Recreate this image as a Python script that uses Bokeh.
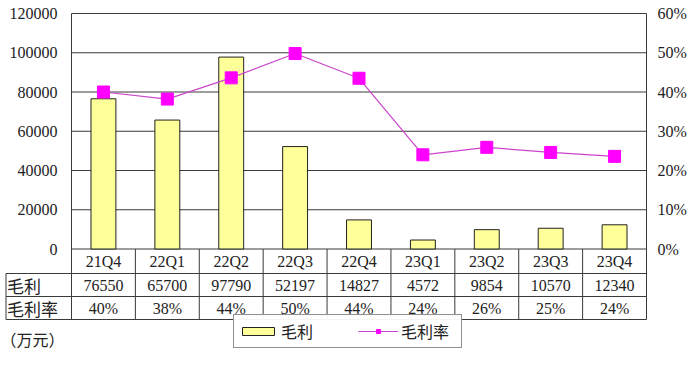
from bokeh.plotting import figure
from bokeh.models import (Range1d, LinearAxis, FixedTicker, PrintfTickFormatter,
                          NumeralTickFormatter, Legend, LegendItem, ColumnDataSource)
from bokeh.core.properties import value
from bokeh.embed import file_html
from bokeh.resources import INLINE

# ---------------- data ----------------
categories = ["21Q4", "22Q1", "22Q2", "22Q3", "22Q4", "23Q1", "23Q2", "23Q3", "23Q4"]
gross_profit = [76550, 65700, 97790, 52197, 14827, 4572, 9854, 10570, 12340]
gross_margin = [40.0, 38.2, 43.6, 49.8, 43.5, 24.0, 25.9, 24.6, 23.6]
profit_labels = ["76550", "65700", "97790", "52197", "14827", "4572", "9854", "10570", "12340"]
margin_labels = ["40%", "38%", "44%", "50%", "44%", "24%", "26%", "25%", "24%"]
left_ticks = [0, 20000, 40000, 60000, 80000, 100000, 120000]
right_ticks = [0, 10, 20, 30, 40, 50, 60]
row_names = ["毛利", "毛利率"]
series_names = ["毛利", "毛利率"]
unit_label = "（万元）"

# ---------------- layout (canvas px) ----------------
W, H = 692, 356
COL0 = 71            # canvas x of first category column edge
COLW = 575 / 9       # px per category
FR = 647             # frame right
TOP = 13             # canvas y of 120000 / 60%
ZERO = 248.5         # canvas y of 0
LMAX, RMAX = 120000, 60
n = len(categories)
PX = LMAX / (ZERO - TOP)      # left units per px
RPX = RMAX / (ZERO - TOP)
x_start = -COL0 / COLW
x_end = n + (FR - COL0 - 575) / COLW
y_end = LMAX + TOP * PX
y_start = -(H - ZERO) * PX
r_end = RMAX + TOP * RPX
r_start = -(H - ZERO) * RPX

row1_bot = -24.5 * PX
row2_bot = -47.5 * PX
tbl_bot = -70.5 * PX
row1_mid = -12.25 * PX
row2_mid = -36.0 * PX
row3_mid = -59.0 * PX
unit_y = -89.5 * PX
HX = x_start + 5.5 / COLW     # header column left border

SERIF = value("Liberation Serif")
CJK = value("Noto Sans CJK SC")
GRID = "#3a3a3a"
TXT = "#222222"

xc = [i + 0.5 for i in range(n)]

p = figure(width=W, height=H, output_backend="svg", toolbar_location=None,
           x_range=Range1d(x_start, x_end), y_range=Range1d(y_start, y_end),
           min_border_left=0, min_border_right=W - FR, min_border_top=0,
           min_border_bottom=0, y_axis_location=None, x_axis_location=None)
p.grid.visible = False
p.outline_line_color = None
p.background_fill_color = "white"
p.border_fill_color = "white"

# left axis (drawn at the first column edge)
lax = LinearAxis(ticker=FixedTicker(ticks=left_ticks), formatter=NumeralTickFormatter(format="0"),
                 fixed_location=0)
lax.major_tick_in = 0
lax.major_tick_out = 0
lax.minor_tick_in = 0
lax.minor_tick_out = 0
lax.axis_line_color = None
lax.major_label_standoff = 14
lax.major_label_text_font = "Liberation Serif"
lax.major_label_text_font_size = "16px"
lax.major_label_text_color = TXT
p.add_layout(lax, "left")

# right axis
p.extra_y_ranges = {"pct": Range1d(r_start, r_end)}
rax = LinearAxis(y_range_name="pct", ticker=FixedTicker(ticks=right_ticks),
                 formatter=PrintfTickFormatter(format="%d%%"))
rax.major_tick_in = 0
rax.major_tick_out = 0
rax.minor_tick_in = 0
rax.minor_tick_out = 0
rax.axis_line_color = None
rax.major_label_standoff = 10
rax.major_label_text_font = "Liberation Serif"
rax.major_label_text_font_size = "16px"
rax.major_label_text_color = TXT
p.add_layout(rax, "right")

# gridlines (only across the category columns)
p.segment(x0=[0] * len(left_ticks), x1=[n] * len(left_ticks), y0=left_ticks, y1=left_ticks,
          line_color=GRID, line_width=1)

src = ColumnDataSource(dict(x=xc, gp=gross_profit, gm=gross_margin, cat=categories,
                            pl=profit_labels, ml=margin_labels))

bars = p.vbar(x="x", top="gp", width=0.39, source=src, fill_color="#FFFF99",
              line_color="#222222", line_width=1)
ln = p.line(x="x", y="gm", source=src, y_range_name="pct", line_color="#CC44CC", line_width=1.2)
sq = p.scatter(x="x", y="gm", source=src, y_range_name="pct", marker="square", size=12,
               fill_color="#FF00FF", line_color="#FF00FF")

# table grid
hy = [row1_bot, row2_bot, tbl_bot]
p.segment(x0=[HX] * 3, x1=[n] * 3, y0=hy, y1=hy, line_color=GRID, line_width=1)
vx = list(range(0, n + 1))
vtop = [LMAX if (i == 0 or i == n) else 0 for i in vx]
p.segment(x0=vx, x1=vx, y0=[tbl_bot] * len(vx), y1=vtop, line_color=GRID, line_width=1)
p.segment(x0=[HX], x1=[HX], y0=[row1_bot], y1=[tbl_bot], line_color=GRID, line_width=1)

for col, ym in (("cat", row1_mid), ("pl", row2_mid), ("ml", row3_mid)):
    p.text(x="x", y=ym, text=col, source=src, text_align="center", text_baseline="middle",
           text_font=SERIF, text_font_size="16px", text_color=TXT)

p.text(x=[HX, HX], y=[row2_mid, row3_mid], text=row_names, x_offset=1,
       text_align="left", text_baseline="middle", text_font=CJK, text_font_size="17px",
       text_color=TXT)
p.text(x=[x_start], y=[unit_y], text=[unit_label], text_align="left", text_baseline="middle",
       text_font=CJK, text_font_size="16px", text_color=TXT)

legend = Legend(items=[LegendItem(label=series_names[0], renderers=[bars]),
                       LegendItem(label=series_names[1], renderers=[ln, sq])],
                orientation="horizontal", location=(233, H - 348))
legend.border_line_color = "#222222"
legend.border_line_width = 1
legend.label_text_font = "Noto Sans CJK SC"
legend.label_text_font_size = "16px"
legend.label_text_color = TXT
legend.glyph_width = 40
legend.glyph_height = 10
legend.label_standoff = 3
legend.label_width = 56
legend.spacing = 21
legend.padding = 4
legend.margin = 0
legend.label_height = 14
p.add_layout(legend, "center")

open("out.html", "w").write(file_html(p, INLINE))
